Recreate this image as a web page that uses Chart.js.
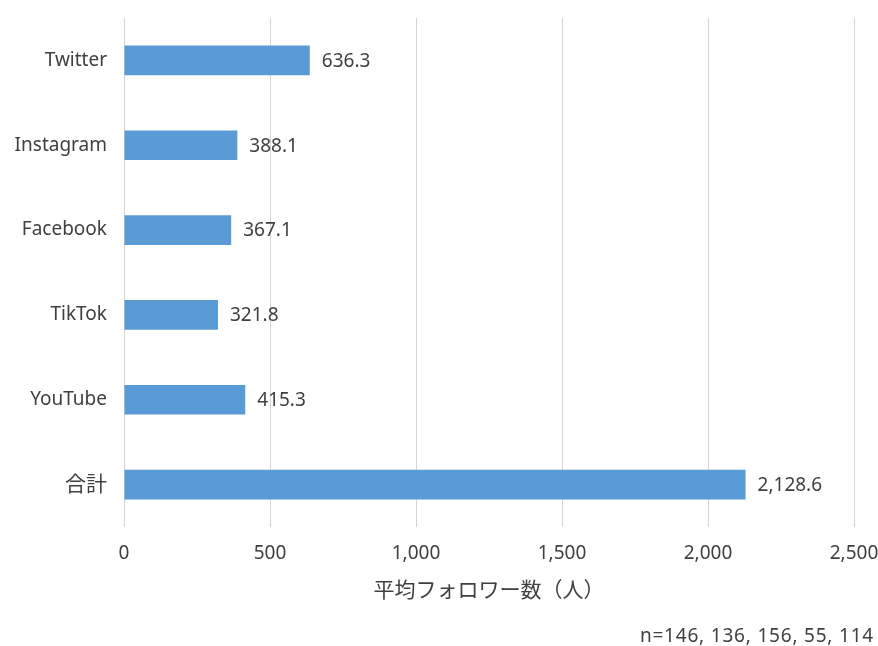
<!DOCTYPE html>
<html lang="ja">
<head>
<meta charset="UTF-8">
<title>平均フォロワー数</title>
<script src="https://cdn.jsdelivr.net/npm/chart.js@4/dist/chart.umd.min.js"></script>
<style>
    html, body { margin: 0; padding: 0; background: #ffffff; }
    .wrap { position: relative; width: 878px; height: 646px; }
    #followerChart { position: absolute; left: 0; top: 0; }
    .note {
        position: absolute; right: 4px; top: 622px;
        font-family: 'Noto Sans', 'Noto Sans CJK JP', sans-serif; font-size: 19px; color: #404040;
        letter-spacing: 0.8px;
    }
</style>
</head>
<body>
<div class="wrap">
    <canvas id="followerChart" width="878" height="646"></canvas>
    <div class="note">n=146, 136, 156, 55, 114</div>
</div>
<script>
// data
const platforms = ['Twitter', 'Instagram', 'Facebook', 'TikTok', 'YouTube', '合計'];
const avgFollowers = [636.3, 388.1, 367.1, 321.8, 415.3, 2128.6];
const xTicks = [0, 500, 1000, 1500, 2000, 2500];
const xTitle = '平均フォロワー数（人）';

const fontFamily = "'Noto Sans', 'Noto Sans CJK JP', sans-serif";
const textColor = '#404040';

// value labels to the right of each bar
const valueLabels = {
    id: 'valueLabels',
    afterDatasetsDraw(chart) {
        const ctx = chart.ctx;
        const meta = chart.getDatasetMeta(0);
        ctx.save();
        ctx.font = '19px ' + fontFamily;
        ctx.fillStyle = textColor;
        ctx.textAlign = 'left';
        ctx.textBaseline = 'middle';
        meta.data.forEach((bar, i) => {
            const txt = avgFollowers[i].toLocaleString('en-US', { minimumFractionDigits: 1, maximumFractionDigits: 1 });
            ctx.fillText(txt, bar.x + 12, bar.y + 1);
        });
        ctx.restore();
    }
};

new Chart(document.getElementById('followerChart'), {
    type: 'bar',
    data: {
        labels: platforms,
        datasets: [{
            data: avgFollowers,
            backgroundColor: '#5b9bd5',
            borderWidth: 0,
            categoryPercentage: 1,
            barPercentage: 0.35
        }]
    },
    options: {
        indexAxis: 'y',
        responsive: false,
        animation: false,
        events: [],
        layout: { padding: { top: 18, right: 24, left: 0, bottom: 0 } },
        plugins: {
            legend: { display: false },
            tooltip: { enabled: false }
        },
        scales: {
            x: {
                min: 0,
                max: 2500,
                afterBuildTicks(axis) {
                    axis.ticks = xTicks.map(v => ({ value: v }));
                },
                afterFit(axis) {
                    axis.height = 119;
                    axis.paddingLeft = 0;
                    axis.paddingRight = 0;
                },
                grid: { color: '#d4d4d4', lineWidth: 1, drawTicks: false },
                border: { display: false },
                ticks: {
                    padding: 15,
                    color: textColor,
                    font: { family: fontFamily, size: 19 },
                    callback: v => v.toLocaleString('en-US')
                },
                title: {
                    display: true,
                    text: xTitle,
                    color: textColor,
                    font: { family: fontFamily, size: 21 },
                    padding: { top: 4, bottom: 42 }
                }
            },
            y: {
                afterFit(axis) {
                    axis.width = 124;
                    axis.paddingTop = 0;
                    axis.paddingBottom = 0;
                },
                grid: { display: false, drawTicks: false },
                border: { display: false },
                ticks: {
                    padding: 17,
                    color: textColor,
                    font: ctx => ({ family: fontFamily, size: ctx.tick && ctx.tick.label === '合計' ? 21 : 19 })
                }
            }
        }
    },
    plugins: [valueLabels]
});
</script>
</body>
</html>
